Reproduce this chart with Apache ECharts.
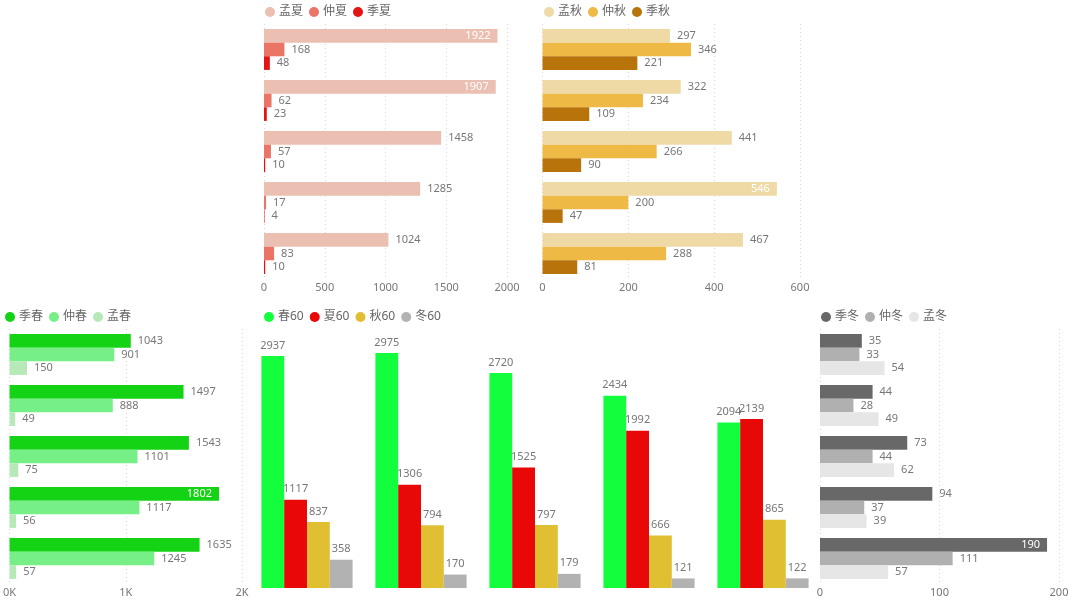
<!DOCTYPE html>
<html><head><meta charset="utf-8">
<script src="https://cdn.jsdelivr.net/npm/echarts@6/dist/echarts.min.js"></script>
<style>html,body{margin:0;padding:0;background:#fff}#c{width:1080px;height:603px}</style>
</head><body><div id="c"></div>
<script>
var categories = ['1','2','3','4','5'];

var summerNames = ['孟夏','仲夏','季夏'];
var summer1 = [1922, 1907, 1458, 1285, 1024];
var summer2 = [168, 62, 57, 17, 83];
var summer3 = [48, 23, 10, 4, 10];

var autumnNames = ['孟秋','仲秋','季秋'];
var autumn1 = [297, 322, 441, 546, 467];
var autumn2 = [346, 234, 266, 200, 288];
var autumn3 = [221, 109, 90, 47, 81];

var springNames = ['季春','仲春','孟春'];
var spring1 = [1043, 1497, 1543, 1802, 1635];
var spring2 = [901, 888, 1101, 1117, 1245];
var spring3 = [150, 49, 75, 56, 57];

var winterNames = ['季冬','仲冬','孟冬'];
var winter1 = [35, 44, 73, 94, 190];
var winter2 = [33, 28, 44, 37, 111];
var winter3 = [54, 49, 62, 39, 57];

var totalNames = ['春60','夏60','秋60','冬60'];
var total1 = [2937, 2975, 2720, 2434, 2094];
var total2 = [1117, 1306, 1525, 1992, 2139];
var total3 = [837, 794, 797, 666, 865];
var total4 = [358, 170, 179, 121, 122];

var summerTicks = {min:0, max:2000, interval:500};
var autumnTicks = {min:0, max:600, interval:200};
var springTicks = {min:0, max:2000, interval:1000};
var winterTicks = {min:0, max:200, interval:100};

var FONT = '"Noto Sans", "Noto Sans CJK SC", sans-serif';
var LABEL_COLOR = '#777';

function hData(values, max) {
  return values.map(function (v) {
    if (v > max * 0.85) {
      return {value: v, label: {position: 'insideRight', color: '#fff', distance: 7}};
    }
    return v;
  });
}

function hSeries(names, arrays, colors, idx, max) {
  return names.map(function (n, i) {
    return {
      type: 'bar', name: n, xAxisIndex: idx, yAxisIndex: idx,
      data: hData(arrays[i], max),
      barGap: '0%', barCategoryGap: '20%',
      itemStyle: {color: colors[i]},
      label: {show: true, position: 'right', distance: 7, color: LABEL_COLOR, fontSize: 11, fontFamily: FONT},
      emphasis: {disabled: true}
    };
  });
}

function valueAxis(idx, t, fmt) {
  return {
    type: 'value', gridIndex: idx, min: t.min, max: t.max, interval: t.interval,
    axisLine: {show: false}, axisTick: {show: false},
    axisLabel: {color: LABEL_COLOR, fontSize: 11, fontFamily: FONT, margin: 3,
      formatter: fmt || function (v) { return String(v); }},
    splitLine: {show: true, lineStyle: {color: '#d9d9d9', type: [1, 3], width: 1}}
  };
}
function catAxisH(idx) {
  return {type: 'category', gridIndex: idx, data: categories, inverse: true, show: false};
}
function legend(names, left, top) {
  return {
    data: names, left: left, top: top, icon: 'circle', itemWidth: 10, itemHeight: 10, itemGap: 6,
    textStyle: {color: '#666', fontSize: 12, fontFamily: FONT, padding: [0, 0, 0, -1]},
    selectedMode: false
  };
}

var summerColors = ['#ebbfb1', '#ea7567', '#e41414'];
var autumnColors = ['#efd9a4', '#eeb944', '#b9730b'];
var springColors = ['#14d214', '#76ef86', '#b6e8b8'];
var winterColors = ['#686868', '#b0b0b0', '#e6e6e6'];
var totalColors = ['#13ff3d', '#e80808', '#e0c032', '#b2b2b2'];

var series = []
  .concat(hSeries(summerNames, [summer1, summer2, summer3], summerColors, 0, summerTicks.max))
  .concat(hSeries(autumnNames, [autumn1, autumn2, autumn3], autumnColors, 1, autumnTicks.max))
  .concat(hSeries(springNames, [spring1, spring2, spring3], springColors, 2, springTicks.max))
  .concat(hSeries(winterNames, [winter1, winter2, winter3], winterColors, 3, winterTicks.max))
  .concat(totalNames.map(function (n, i) {
    return {
      type: 'bar', name: n, xAxisIndex: 4, yAxisIndex: 4,
      data: [total1, total2, total3, total4][i],
      barGap: '0%', barCategoryGap: '20%',
      itemStyle: {color: totalColors[i]},
      label: {show: true, position: 'top', distance: 5, color: LABEL_COLOR, fontSize: 11, fontFamily: FONT},
      emphasis: {disabled: true}
    };
  }));

var option = {
  animation: false,
  textStyle: {fontFamily: FONT},
  color: summerColors.concat(autumnColors, springColors, winterColors, totalColors),
  legend: [
    legend(summerNames, 260, 1),
    legend(autumnNames, 539, 1),
    legend(springNames, 0, 306),
    legend(totalNames, 259, 306),
    legend(winterNames, 816, 306)
  ],
  grid: [
    {left: 264, top: 24, width: 243, height: 255},
    {left: 542.5, top: 24, width: 257.5, height: 255},
    {left: 7, top: 329, width: 235, height: 255},
    {left: 820, top: 329, width: 239, height: 255},
    {left: 250, top: 351, width: 570, height: 237}
  ],
  xAxis: [
    valueAxis(0, summerTicks),
    valueAxis(1, autumnTicks),
    valueAxis(2, springTicks, function (v) { return (v / 1000) + 'K'; }),
    valueAxis(3, winterTicks),
    {type: 'category', gridIndex: 4, data: categories, show: false}
  ],
  yAxis: [
    catAxisH(0), catAxisH(1), catAxisH(2), catAxisH(3),
    {type: 'value', gridIndex: 4, min: 0, max: 3000, show: false, splitLine: {show: false}}
  ],
  series: series
};

echarts.init(document.getElementById('c'), null, {renderer: 'canvas'}).setOption(option);
</script>
</body></html>
